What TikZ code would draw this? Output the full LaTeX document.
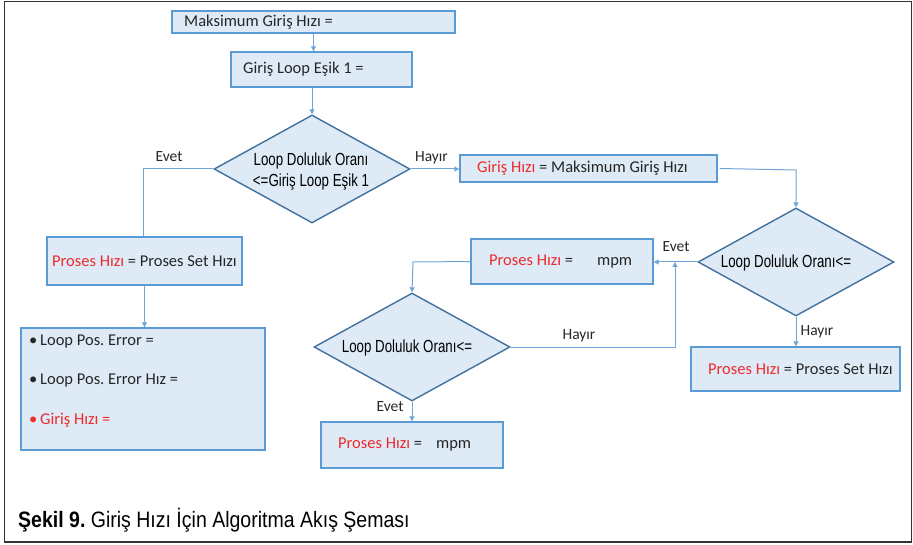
\documentclass[tikz,border=0pt]{standalone}
\usepackage{fontspec}
\setmainfont{Carlito}
\newfontfamily\diafam[FakeStretch=0.76]{Liberation Sans}
\newfontfamily\capfam[FakeStretch=0.875]{Liberation Sans}
\usetikzlibrary{shapes.geometric,arrows.meta}
\frenchspacing

\definecolor{boxfill}{HTML}{DEEBF7}
\definecolor{boxline}{HTML}{5B9BD5}
\definecolor{diaLine}{HTML}{41719C}
\definecolor{conLine}{HTML}{6FA6DA}
\definecolor{txt}{HTML}{262626}
\definecolor{redtxt}{HTML}{EE2A2A}
\definecolor{frameC}{HTML}{333333}

\newcommand\boxfont{\fontsize{16.5}{19}\selectfont}
\newcommand\lblfont{\fontsize{15.5}{18}\selectfont}
\newcommand\diafont{\diafam\fontsize{17.5}{21}\selectfont}
\newcommand\capfont{\capfam\fontsize{22.3}{26}\selectfont}
\newcommand\rd[1]{\textcolor{redtxt}{#1}}

\tikzset{
  box/.style={rectangle, draw=boxline, fill=boxfill, line width=1.4pt, inner sep=0pt},
  btext/.style={font=\boxfont, text=txt, inner sep=0pt, anchor=west},
  dia/.style={diamond, draw=diaLine, fill=boxfill, line width=1.4pt,
    inner sep=0pt, minimum width=196pt, minimum height=108pt},
  conn/.style={draw=conLine, line width=1pt},
  arr/.style={conn, -{Triangle[length=5pt,width=5pt]}},
  lbl/.style={font=\lblfont, text=txt, inner sep=0pt},
  dtext/.style={font=\diafont, text=black, align=center, inner sep=0pt}
}

\begin{document}
\begin{tikzpicture}[x=1pt,y=-1pt]
\useasboundingbox (0,0) rectangle (913,545);
\draw[frameC, line width=1.5pt] (4.5,1.5) rectangle (911.5,542);

% process boxes
\node[box, minimum width=283pt, minimum height=22pt] (b1) at (313.5,22) {};
\node[btext] (s1) at (184,22) {Maksimum Giriş Hızı =};
\node[box, minimum width=181pt, minimum height=35pt] (b2) at (321.5,69.5) {};
\node[btext] (s2) at (243,69.5) {Giriş Loop Eşik 1 =};
\node[box, minimum width=257pt, minimum height=27pt] (b4) at (588.5,168.5) {};
\node[btext] (s4) at (477,168.5) {\rd{Giriş Hızı} = Maksimum Giriş Hızı};
\node[box, minimum width=195pt, minimum height=48pt] (b3) at (144.5,261) {};
\node[btext] (s3) at (52,261) {\rd{Proses Hızı} = Proses Set Hızı};
\node[box, minimum width=182pt, minimum height=45pt] (b5) at (562,261.5) {};
\node[btext] (s5) at (489,262) {\rd{Proses Hızı} =\hspace{24pt}mpm};
\node[box, minimum width=209pt, minimum height=44pt] (b6) at (795.5,369) {};
\node[btext] (s6) at (708,369) {\rd{Proses Hızı} = Proses Set Hızı};
\node[box, minimum width=182pt, minimum height=46pt] (b7) at (412,445) {};
\node[btext] (s7) at (338,445) {\rd{Proses Hızı} =\hspace{14pt}mpm};
\node[box, minimum width=244pt, minimum height=122pt] (b8) at (143,389) {};
\node[btext] (e1) at (29,342) {\textbullet\,Loop Pos. Error =};
\node[btext] (e2) at (29,381) {\textbullet\,Loop Pos. Error Hız =};
\node[btext, text=redtxt] (e3) at (29,420) {\textbullet\,Giriş Hızı =};

% decisions
\node[dia] (d1) at (312,169) {};
\node[dtext] (t1) at (311,172) {Loop Doluluk Oranı\\<=Giriş Loop Eşik 1};
\node[dia] (d2) at (796,262) {};
\node[dtext] (t2) at (786,263) {Loop Doluluk Oranı<=};
\node[dia] (d3) at (412,347) {};
\node[dtext] (t3) at (407,348) {Loop Doluluk Oranı<=};

% connectors
\coordinate (k1) at (143,169);
\coordinate (k2) at (796,170);
\coordinate (k3) at (675,347);
\coordinate (k4) at (675,262);
\coordinate (k5) at (413,262);

\draw[arr] (b1.south) -- (b2.north -| b1.south);
\draw[arr] (b2.south -| d1.north) -- (d1.north);
\draw[conn] (d1.west) -- (k1) -- (k1 |- b3.north);
\draw[arr] (d1.east) -- (d1.east -| b4.west);
\draw[arr] (b4.east) ++(2,0) -- (k2) -- (d2.north);
\draw[arr] (d2.west) -- (d2.west -| b5.east);
\draw[arr] (d3.east) -- (k3) -- (k4);
\draw[arr] (b5.west) -- (k5) -- (d3.north);
\draw[arr] (d3.south) -- (d3.south |- b7.north);
\draw[arr] (d2.south) -- (d2.south |- b6.north);
\draw[arr] (b3.south) -- (b3.south |- b8.north);

% branch labels
\node[lbl] (l1) at (169,157) {Evet};
\node[lbl] (l2) at (431.5,158) {Hayır};
\node[lbl] (l3) at (676,247) {Evet};
\node[lbl] (l4) at (817,332) {Hayır};
\node[lbl] (l5) at (579,336) {Hayır};
\node[lbl] (l6) at (390,407) {Evet};

% caption
\node[font=\capfont, text=black, anchor=base west, inner sep=0pt] (cap)
  at (18,527) {\textbf{Şekil 9.} Giriş Hızı İçin Algoritma Akış Şeması};
\end{tikzpicture}
\end{document}
